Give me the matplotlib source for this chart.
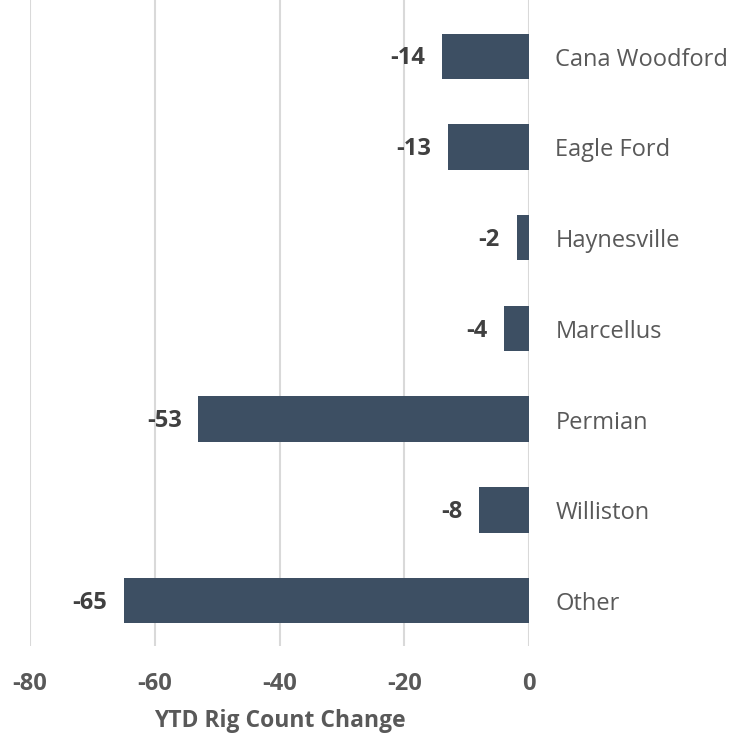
import matplotlib
matplotlib.use("Agg")
import matplotlib.pyplot as plt

plt.rcParams['font.family'] = ['Open Sans', 'DejaVu Sans']

# datos
regions = ['Cana Woodford', 'Eagle Ford', 'Haynesville', 'Marcellus', 'Permian', 'Williston', 'Other']
changes = [-14, -13, -2, -4, -53, -8, -65]
xticks = [-80, -60, -40, -20, 0]

bar_color = '#3D4F63'

fig = plt.figure(figsize=(7.45, 7.34), dpi=100)
ax = fig.add_axes([30 / 745, 1 - 646 / 734, 499 / 745, 646 / 734])

ypos = list(range(len(regions)))
ax.barh(ypos, changes, height=0.5, color=bar_color, zorder=3)

ax.set_xlim(-80, 0)
ax.set_ylim(6.5, 6.5 - 7.12)

# rejilla vertical
ax.set_xticks(xticks)
ax.set_xticklabels([str(t) for t in xticks])
ax.grid(axis='x', color='#D9D9D9', linewidth=1.5, zorder=0)
for s in ax.spines.values():
    s.set_visible(False)
ax.set_yticks([])
ax.tick_params(axis='x', length=0, pad=19, labelsize=17, labelcolor='#595959')
for lbl in ax.get_xticklabels():
    lbl.set_fontweight('bold')

# etiquetas de valor y nombres de region
for y, v, name in zip(ypos, changes, regions):
    ax.annotate(str(v), xy=(v, y), xytext=(-12, -1.5), textcoords='offset points',
                ha='right', va='center', fontsize=17, fontweight='bold', color='#404040')
    ax.annotate(name, xy=(0, y), xytext=(19, -2.5), textcoords='offset points',
                ha='left', va='center', fontsize=17, color='#595959', annotation_clip=False)

fig.text(279.5 / 745, 1 - 721 / 734, 'YTD Rig Count Change', ha='center', va='center',
         fontsize=16.5, fontweight='bold', color='#595959')

fig.savefig('out.png', dpi=100)
